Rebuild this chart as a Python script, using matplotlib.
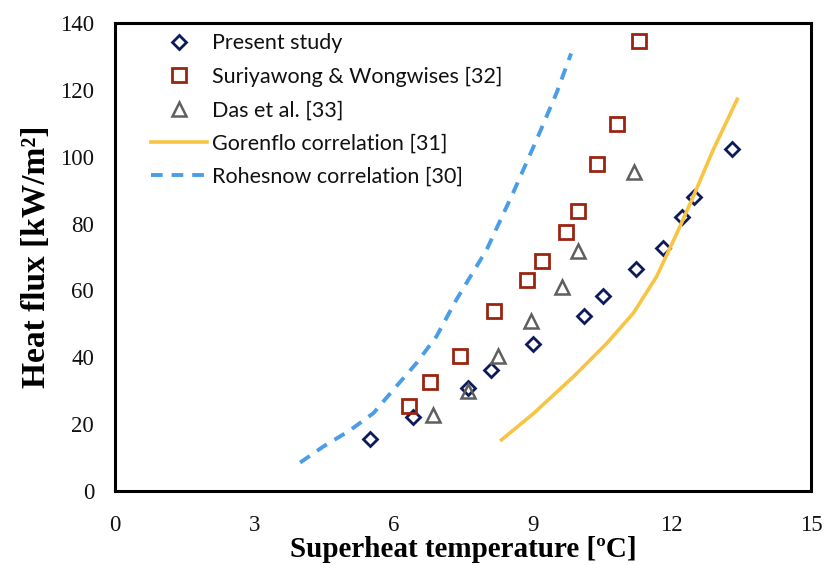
import matplotlib
matplotlib.use("Agg")
import matplotlib.pyplot as plt

# Present study
present_x = [5.50, 6.43, 7.60, 8.10, 9.01, 10.10, 10.52, 11.22, 11.80, 12.22, 12.48, 13.30]
present_y = [15.5, 22.1, 30.8, 36.1, 44.0, 52.3, 58.2, 66.4, 72.7, 81.9, 87.9, 102.4]

# Suriyawong & Wongwises [32]
suri_x = [6.34, 6.78, 7.44, 8.17, 8.87, 9.20, 9.72, 9.98, 10.39, 10.81, 11.29]
suri_y = [25.5, 32.5, 40.5, 53.7, 63.2, 68.9, 77.4, 83.9, 97.9, 109.9, 134.5]

# Das et al. [33]
das_x = [6.86, 7.61, 8.26, 8.96, 9.63, 9.98, 11.19]
das_y = [22.8, 29.8, 40.5, 51.0, 60.9, 71.9, 95.5]

# Gorenflo correlation [31]
gor_x = [8.33, 9.02, 9.88, 10.60, 11.17, 11.67, 12.11, 12.46, 12.89, 13.41]
gor_y = [15.3, 23.2, 34.2, 44.2, 53.2, 64.1, 77.1, 88.0, 102.0, 117.2]

# Rohesnow correlation [30]
roh_x = [3.99, 4.49, 5.06, 5.57, 6.00, 6.50, 6.93, 7.36, 8.01, 8.58, 9.09, 9.52, 9.83]
roh_y = [8.5, 13.3, 18.1, 23.3, 30.3, 38.3, 46.3, 57.3, 72.2, 89.2, 105.2, 119.2, 130.9]

xticks = [0, 3, 6, 9, 12, 15]
yticks = [0, 20, 40, 60, 80, 100, 120, 140]

fig = plt.figure(figsize=(8.25, 5.65), dpi=100)
ax = fig.add_axes([115 / 825, 1 - 491 / 565, 696 / 825, 468 / 565])

ax.plot(present_x, present_y, linestyle='none', marker='D', markersize=7,
        markerfacecolor='none', markeredgecolor='#0d1a5e', markeredgewidth=2,
        label='Present study')
ax.plot(suri_x, suri_y, linestyle='none', marker='s', markersize=10,
        markerfacecolor='none', markeredgecolor='#9b2410', markeredgewidth=2,
        label='Suriyawong & Wongwises [32]')
ax.plot(das_x, das_y, linestyle='none', marker='^', markersize=10,
        markerfacecolor='none', markeredgecolor='#5f5f5f', markeredgewidth=1.8,
        label='Das et al. [33]')
ax.plot(gor_x, gor_y, color='#f7c443', linewidth=2.6, label='Gorenflo correlation [31]')
ax.plot(roh_x, roh_y, color='#4a9de6', linewidth=2.8, linestyle=(0, (3, 2.3)),
        label='Rohesnow correlation [30]')

ax.set_xlim(0, 15)
ax.set_ylim(0, 140)
ax.set_xticks(xticks)
ax.set_yticks(yticks)
ax.tick_params(length=0, labelsize=16.5, colors='#111111')
ax.tick_params(axis='x', pad=17)
ax.tick_params(axis='y', pad=15)
for lab in ax.get_xticklabels() + ax.get_yticklabels():
    lab.set_family('Liberation Serif')

for sp in ax.spines.values():
    sp.set_linewidth(2.2)
    sp.set_color('black')

ax.set_xlabel('Superheat temperature [ºC]', family='Liberation Serif',
              fontweight='bold', fontsize=21, labelpad=0)
ax.set_ylabel('Heat flux [kW/m²]', family='Liberation Serif',
              fontweight='bold', fontsize=24, labelpad=6)

leg = ax.legend(loc='upper left', bbox_to_anchor=(0.03, 1.01), frameon=False,
                prop={'family': 'Lato', 'size': 15.5}, handlelength=2.6,
                handletextpad=0.25, labelspacing=0.62, borderaxespad=0.3)
for t in leg.get_texts():
    t.set_color('#111111')

fig.savefig('out.png', dpi=100)
